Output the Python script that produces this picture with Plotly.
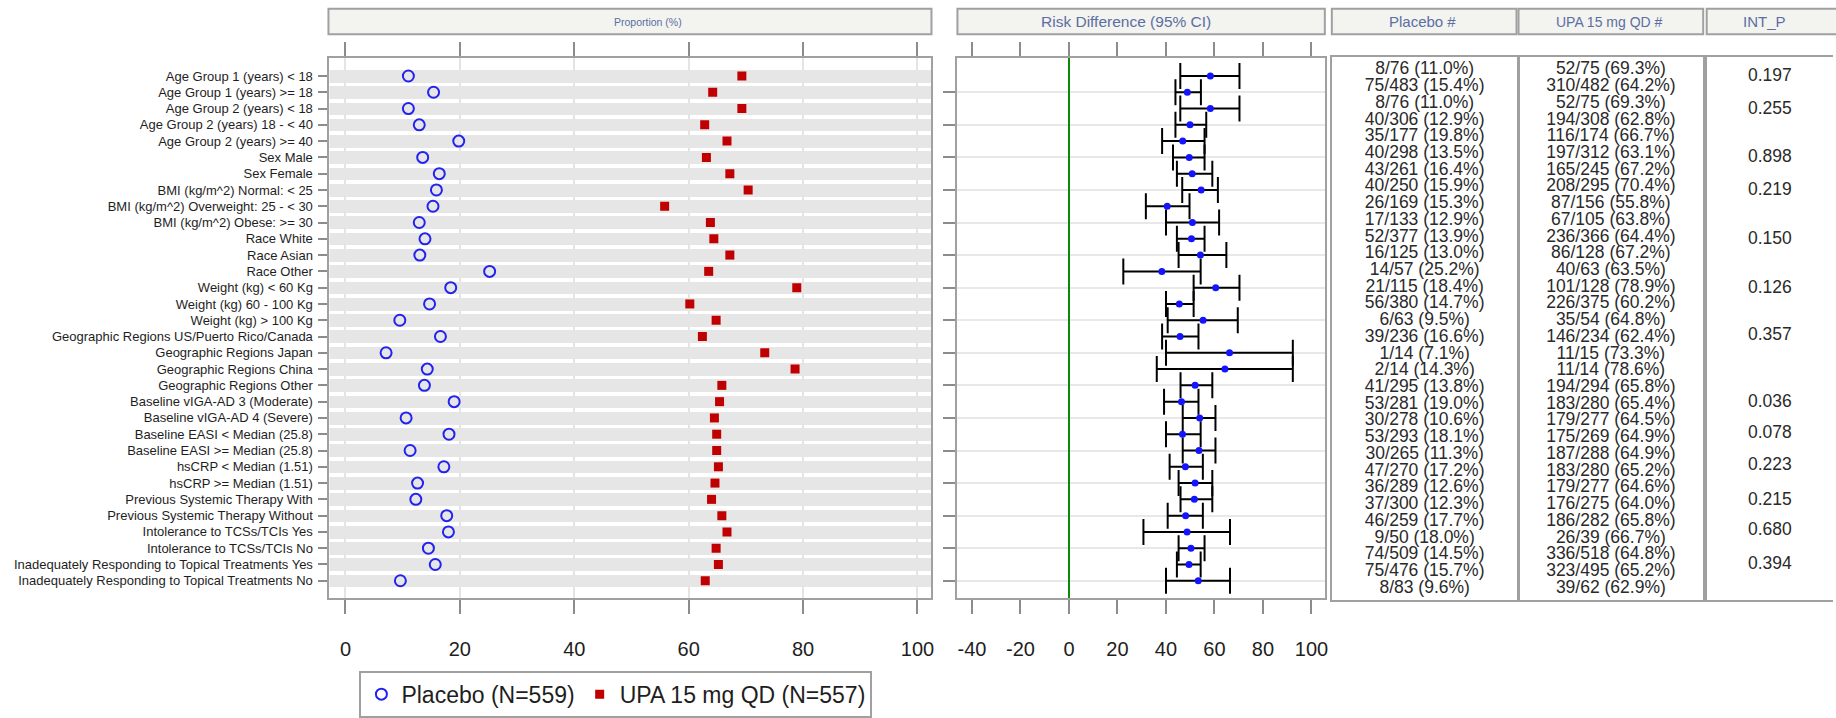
import plotly.graph_objects as go

# ---------------------------------------------------------------- data
subgroups = [
    "Age Group 1 (years) < 18",
    "Age Group 1 (years) >= 18",
    "Age Group 2 (years) < 18",
    "Age Group 2 (years) 18 - < 40",
    "Age Group 2 (years) >= 40",
    "Sex Male",
    "Sex Female",
    "BMI (kg/m^2) Normal: < 25",
    "BMI (kg/m^2) Overweight: 25 - < 30",
    "BMI (kg/m^2) Obese: >= 30",
    "Race White",
    "Race Asian",
    "Race Other",
    "Weight (kg) < 60 Kg",
    "Weight (kg) 60 - 100 Kg",
    "Weight (kg) > 100 Kg",
    "Geographic Regions US/Puerto Rico/Canada",
    "Geographic Regions Japan",
    "Geographic Regions China",
    "Geographic Regions Other",
    "Baseline vIGA-AD 3 (Moderate)",
    "Baseline vIGA-AD 4 (Severe)",
    "Baseline EASI < Median (25.8)",
    "Baseline EASI >= Median (25.8)",
    "hsCRP < Median (1.51)",
    "hsCRP >= Median (1.51)",
    "Previous Systemic Therapy With",
    "Previous Systemic Therapy Without",
    "Intolerance to TCSs/TCIs Yes",
    "Intolerance to TCSs/TCIs No",
    "Inadequately Responding to Topical Treatments Yes",
    "Inadequately Responding to Topical Treatments No",
]

pbo_n = [8, 75, 8, 40, 35, 40, 43, 40, 26, 17, 52, 16, 14, 21, 56, 6,
         39, 1, 2, 41, 53, 30, 53, 30, 47, 36, 37, 46, 9, 74, 75, 8]
pbo_N = [76, 483, 76, 306, 177, 298, 261, 250, 169, 133, 377, 125, 57, 115, 380, 63,
         236, 14, 14, 295, 281, 278, 293, 265, 270, 289, 300, 259, 50, 509, 476, 83]
pbo_pct = [11.0, 15.4, 11.0, 12.9, 19.8, 13.5, 16.4, 15.9, 15.3, 12.9, 13.9, 13.0, 25.2, 18.4, 14.7, 9.5,
           16.6, 7.1, 14.3, 13.8, 19.0, 10.6, 18.1, 11.3, 17.2, 12.6, 12.3, 17.7, 18.0, 14.5, 15.7, 9.6]

upa_n = [52, 310, 52, 194, 116, 197, 165, 208, 87, 67, 236, 86, 40, 101, 226, 35,
         146, 11, 11, 194, 183, 179, 175, 187, 183, 179, 176, 186, 26, 336, 323, 39]
upa_N = [75, 482, 75, 308, 174, 312, 245, 295, 156, 105, 366, 128, 63, 128, 375, 54,
         234, 15, 14, 294, 280, 277, 269, 288, 280, 277, 275, 282, 39, 518, 495, 62]
upa_pct = [69.3, 64.2, 69.3, 62.8, 66.7, 63.1, 67.2, 70.4, 55.8, 63.8, 64.4, 67.2, 63.5, 78.9, 60.2, 64.8,
           62.4, 73.3, 78.6, 65.8, 65.4, 64.5, 64.9, 64.9, 65.2, 64.6, 64.0, 65.8, 66.7, 64.8, 65.2, 62.9]

# risk difference (UPA - placebo) with 95% CI, percentage points
rd_est = [58.3, 48.8, 58.3, 49.9, 46.9, 49.6, 50.8, 54.5, 40.5, 50.9, 50.5, 54.2, 38.3, 60.5, 45.5, 55.3,
          45.8, 66.2, 64.3, 52.0, 46.4, 53.9, 46.8, 53.6, 48.0, 52.0, 51.7, 48.1, 48.7, 50.3, 49.5, 53.3]
rd_low = [45.9, 43.9, 45.9, 43.9, 38.4, 42.9, 44.5, 46.7, 31.7, 40.0, 44.5, 45.2, 22.4, 51.4, 40.0, 40.7,
          38.4, 40.0, 36.2, 46.0, 39.2, 46.9, 40.0, 46.9, 41.5, 45.2, 46.0, 40.7, 30.7, 45.2, 44.5, 40.0]
rd_high = [70.3, 54.4, 70.3, 56.6, 55.9, 55.9, 59.1, 61.4, 49.7, 61.9, 55.9, 64.9, 54.3, 70.3, 51.4, 69.6,
           53.4, 92.3, 92.3, 59.1, 53.4, 60.4, 54.3, 60.4, 55.2, 59.1, 59.1, 55.2, 66.4, 55.9, 54.3, 66.4]

int_p = ["0.197", "0.255", "0.898", "0.219", "0.150", "0.126", "0.357",
         "0.036", "0.078", "0.223", "0.215", "0.680", "0.394"]

prop_ticks = [0, 20, 40, 60, 80, 100]
rd_ticks = [-40, -20, 0, 20, 40, 60, 80, 100]

# ---------------------------------------------------------------- layout helpers
W, H = 1836, 718


def dom_x(left, right):
    return [left / W, right / W]


def dom_y(top, bottom):
    return [1 - bottom / H, 1 - top / H]


rows = list(range(1, len(subgroups) + 1))
# vertical placement of the interaction p-values inside the table column
int_p_rows = [1.37, 3.34, 6.26, 8.21, 11.13, 14.06, 16.88, 20.88, 22.73, 24.68, 26.73, 28.58, 30.57]

SANS = "Liberation Sans, Arial, sans-serif"
FRAME = "#a0a0a0"
TICK = "#8c8c8c"
HEAD_TXT = "#5b6fa3"

prop_range = [-2.8, 102.45]
rd_range = [-46, 105.5]

fig = go.Figure()

# grey row bands behind the proportion markers
fig.add_trace(go.Bar(
    y=rows, x=[prop_range[1] - prop_range[0]] * len(rows), base=prop_range[0],
    orientation="h", width=0.78, xaxis="x", yaxis="y", showlegend=False,
    marker=dict(color="#e6e6e6", line=dict(width=0)), hoverinfo="skip",
))

# proportions panel
fig.add_trace(go.Scatter(
    x=pbo_pct, y=rows, xaxis="x", yaxis="y", mode="markers",
    name="Placebo (N=559)",
    marker=dict(symbol="circle-open", size=11, color="#2323f0", line=dict(width=2, color="#2323f0")),
))
fig.add_trace(go.Scatter(
    x=upa_pct, y=rows, xaxis="x", yaxis="y", mode="markers",
    name="UPA 15 mg QD (N=557)",
    marker=dict(symbol="square", size=9, color="#c00000"),
))

# risk difference panel
err_plus = [h - e for h, e in zip(rd_high, rd_est)]
err_minus = [e - l for e, l in zip(rd_est, rd_low)]
fig.add_trace(go.Scatter(
    x=rd_est, y=rows, xaxis="x2", yaxis="y2", mode="markers", showlegend=False,
    marker=dict(symbol="circle", size=7, color="#1414ff"),
    error_x=dict(type="data", symmetric=False, array=err_plus, arrayminus=err_minus,
                 color="black", thickness=2, width=13),
))

# table columns
pbo_txt = [f"{n}/{N} ({p:.1f}%)" for n, N, p in zip(pbo_n, pbo_N, pbo_pct)]
upa_txt = [f"{n}/{N} ({p:.1f}%)" for n, N, p in zip(upa_n, upa_N, upa_pct)]
table_font = dict(family=SANS, size=17.5, color="#2a2a2a")
fig.add_trace(go.Scatter(x=[0.5] * len(rows), y=rows, text=pbo_txt, mode="text",
                         xaxis="x3", yaxis="y3", showlegend=False, textfont=table_font))
fig.add_trace(go.Scatter(x=[0.5] * len(rows), y=rows, text=upa_txt, mode="text",
                         xaxis="x4", yaxis="y4", showlegend=False, textfont=table_font))
fig.add_trace(go.Scatter(x=[0.5] * len(int_p), y=int_p_rows, text=int_p, mode="text",
                         xaxis="x5", yaxis="y5", showlegend=False, textfont=table_font))

# ---------------------------------------------------------------- axes
plot_top, plot_bot = 59, 612
row_range = [33.08, -0.123]
bottom_font = dict(family=SANS, size=20, color="#1e1e1e")

common_x = dict(
    ticks="outside", ticklen=14, tickwidth=1.5, tickcolor=TICK,
    showline=True, linecolor=FRAME, linewidth=2, mirror="ticks",
    tickfont=bottom_font, ticklabelstandoff=18, fixedrange=True,
)

fig.update_layout(
    xaxis=dict(domain=dom_x(330, 933), range=prop_range, anchor="y",
               tickvals=prop_ticks, ticktext=[str(t) for t in prop_ticks],
               showgrid=True, gridcolor="#e4e4e4", gridwidth=2,
               zeroline=False, **common_x),
    yaxis=dict(domain=dom_y(plot_top, plot_bot), range=row_range, anchor="x",
               tickvals=rows, ticktext=subgroups, ticks="outside", ticklen=9,
               tickwidth=1.5, tickcolor=TICK, showline=True, linecolor=FRAME,
               linewidth=2, mirror=True, showgrid=False, zeroline=False,
               tickfont=dict(family=SANS, size=13, color="#1e1e1e"), ticklabelstandoff=3),
    xaxis2=dict(domain=dom_x(959, 1327), range=rd_range, anchor="y2",
                tickvals=rd_ticks, ticktext=[str(t) for t in rd_ticks],
                showgrid=False, zeroline=True,
                zerolinecolor="#0a8a0a", zerolinewidth=2, **common_x),
    yaxis2=dict(domain=dom_y(plot_top, plot_bot), range=row_range, anchor="x2",
                tickvals=rows[1::2], showticklabels=False, ticks="outside", ticklen=12,
                tickwidth=1.5, tickcolor=TICK, showline=True, linecolor=FRAME,
                linewidth=2, mirror=True, showgrid=True, gridcolor="#e8e8e8",
                gridwidth=2, zeroline=False),
    bargap=0,
)

table_top, table_bot = 58, 614
table_range = [32.72, 0.2]
table_cols = [("x3", "y3", 1334, 1520, True), ("x4", "y4", 1521, 1706, True),
              ("x5", "y5", 1709.5, W, False)]
for xa, ya, left, right, closed in table_cols:
    fig.layout[xa.replace("x", "xaxis")] = dict(
        domain=dom_x(left, right), range=[0, 1], anchor=ya, showticklabels=False,
        ticks="", showgrid=False, zeroline=False, showline=True, linecolor=FRAME,
        linewidth=2, mirror=True, fixedrange=True)
    fig.layout[ya.replace("y", "yaxis")] = dict(
        domain=dom_y(table_top, table_bot), range=table_range, anchor=xa,
        showticklabels=False, ticks="", showgrid=False, zeroline=False,
        showline=True, linecolor=FRAME, linewidth=2, mirror=closed, fixedrange=True)

# ---------------------------------------------------------------- header boxes
# (text, box left, box right, text centre, font size)
headers = [
    ("Proportion (%)", 329, 933, 649, 10.5),
    ("Risk Difference (95% CI)", 959, 1327, 1128, 15.5),
    ("Placebo #", 1334, 1519, 1425, 15),
    ("UPA 15 mg QD #", 1521, 1706, 1612, 14),
    ("INT_P", 1709.5, W + 6, 1767, 15),
]
shapes = []
annotations = []
for text, left, right, centre, size in headers:
    shapes.append(dict(type="rect", xref="paper", yref="paper",
                       x0=left / W, x1=right / W, y0=1 - 35 / H, y1=1 - 9 / H,
                       fillcolor="#f3f3ef", line=dict(color=FRAME, width=2), layer="above"))
    annotations.append(dict(text=text, xref="paper", yref="paper",
                            x=centre / W, y=1 - 22 / H, showarrow=False,
                            xanchor="center", yanchor="middle",
                            font=dict(family=SANS, size=size, color=HEAD_TXT)))

fig.update_layout(
    shapes=shapes,
    annotations=annotations,
    width=W, height=H, autosize=False,
    margin=dict(l=0, r=0, t=0, b=0, pad=0),
    paper_bgcolor="white", plot_bgcolor="white",
    showlegend=True,
    legend=dict(orientation="h", x=360 / W, y=1 - 686 / H, xanchor="left", yanchor="top",
                bordercolor=FRAME, borderwidth=2, bgcolor="white",
                font=dict(family=SANS, size=23, color="#1e1e1e"),
                itemwidth=30, tracegroupgap=0),
    hovermode=False,
)

fig.write_html("out.html")
